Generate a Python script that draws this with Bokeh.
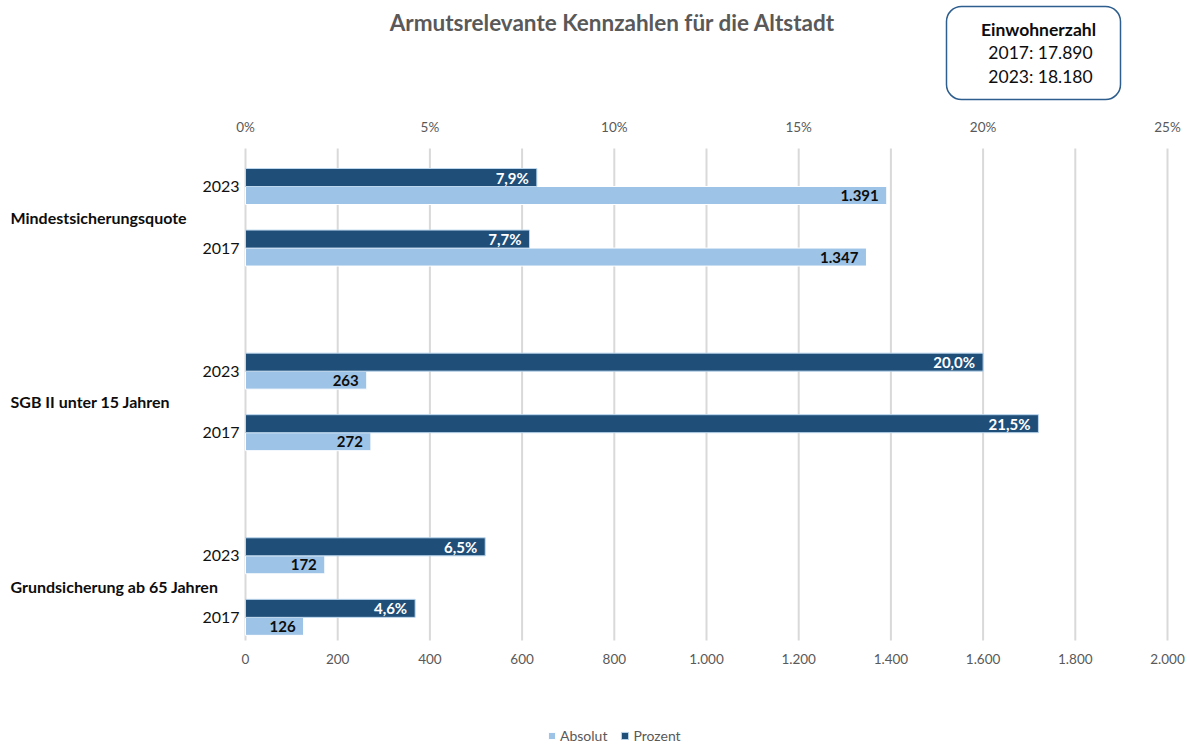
from bokeh.plotting import figure
from bokeh.models import (Range1d, LinearAxis, FixedTicker, BoxAnnotation,
                          Legend, LegendItem, ColumnDataSource)
from bokeh.core.properties import value
from bokeh.embed import file_html
from bokeh.resources import INLINE

# ---------------- data ----------------
groups = ["Mindestsicherungsquote", "SGB II unter 15 Jahren", "Grundsicherung ab 65 Jahren"]
years = ["2023", "2017"]
prozent = [[7.9, 7.7], [20.0, 21.5], [6.5, 4.6]]        # percent values
absolut = [[1391, 1347], [263, 272], [172, 126]]         # absolute values
abs_ticks = [0, 200, 400, 600, 800, 1000, 1200, 1400, 1600, 1800, 2000]
abs_tick_labels = ["0", "200", "400", "600", "800", "1.000", "1.200", "1.400", "1.600", "1.800", "2.000"]
pct_ticks = [0, 5, 10, 15, 20, 25]
pct_tick_labels = ["0%", "5%", "10%", "15%", "20%", "25%"]
title_text = "Armutsrelevante Kennzahlen für die Altstadt"
box_title = "Einwohnerzahl"
box_lines = ["2017: 17.890", "2023: 18.180"]
series_names = ["Absolut", "Prozent"]
ABS_MAX, PCT_MAX = 2000, 25

DARK = "#1F4E79"
LIGHT = "#9DC3E6"
FONT = "Lato"

# ---------------- geometry (canvas pixels) ----------------
W, H = 1190, 745
FL, FR, FT, FB = 245, 1167, 148, 640   # plot area
SLOT = 61.55
Y_TOP = -38 / SLOT
BAR_H = 18 / SLOT


def px_x(px):
    return (px - FL) / (FR - FL) * ABS_MAX


def px_y(py):
    return Y_TOP + (py - FT) / SLOT


p = figure(width=W, height=H, output_backend="svg", toolbar_location=None,
           x_range=Range1d(px_x(0), px_x(W)), y_range=Range1d(px_y(H), px_y(0)),
           min_border=0, x_axis_location=None, y_axis_location=None)
p.title.text = ""
p.outline_line_color = None
p.background_fill_color = "white"
p.border_fill_color = "white"
p.xgrid.visible = False
p.ygrid.visible = False
p.extra_x_ranges = {"pct": Range1d(px_x(0) / ABS_MAX * PCT_MAX, px_x(W) / ABS_MAX * PCT_MAX)}

# gridlines (vertical, at the absolute ticks, spanning the plot area)
p.segment(x0=abs_ticks, x1=abs_ticks, y0=[px_y(FT)] * len(abs_ticks),
          y1=[px_y(FB)] * len(abs_ticks), line_color="#D9D9D9", line_width=2)

# bars
ys, dark_y, light_y, pv, av, plab, alab = [], [], [], [], [], [], []
for gi, g in enumerate(groups):
    for yi, yr in enumerate(years):
        y = gi * 3 + yi
        ys.append(y)
        dark_y.append(y - BAR_H / 2)
        light_y.append(y + BAR_H / 2)
        pv.append(prozent[gi][yi])
        av.append(absolut[gi][yi])
        plab.append(f"{prozent[gi][yi]:.1f}".replace(".", ",") + "%")
        alab.append(f"{absolut[gi][yi]:,}".replace(",", "."))

src = ColumnDataSource(dict(dy=dark_y, ly=light_y, pv=pv, av=av, plab=plab, alab=alab))

r_abs = p.hbar(y="ly", right="av", left=0, height=BAR_H, source=src,
               fill_color=LIGHT, line_color="white", line_width=1)
r_pct = p.hbar(y="dy", right="pv", left=0, height=BAR_H, source=src, x_range_name="pct",
               fill_color=DARK, line_color="#BDD7EE", line_width=1)

p.text(x="pv", y="dy", text="plab", source=src, x_range_name="pct", x_offset=-8,
       text_align="right", text_baseline="middle", text_color="white",
       text_font=value(FONT), text_font_style="bold", text_font_size="15px")
p.text(x="av", y="ly", text="alab", source=src, x_offset=-8,
       text_align="right", text_baseline="middle", text_color="#0D0D0D",
       text_font=value(FONT), text_font_style="bold", text_font_size="15px")


# axes
def style_axis(ax, size, color):
    ax.axis_line_color = None
    ax.major_tick_line_color = None
    ax.minor_tick_line_color = None
    ax.major_tick_out = 0
    ax.major_tick_in = 0
    ax.minor_tick_out = 0
    ax.major_label_text_color = color
    ax.major_label_text_font = FONT
    ax.major_label_text_font_size = size


xb = LinearAxis(ticker=FixedTicker(ticks=abs_ticks), fixed_location=px_y(FB),
                major_label_overrides={t: l for t, l in zip(abs_ticks, abs_tick_labels)})
style_axis(xb, "13.5px", "#595959")
xb.major_label_standoff = 13
p.add_layout(xb, "below")

xt = LinearAxis(x_range_name="pct", ticker=FixedTicker(ticks=pct_ticks), fixed_location=px_y(FT),
                major_label_overrides={t: l for t, l in zip(pct_ticks, pct_tick_labels)})
style_axis(xt, "13.5px", "#595959")
xt.major_label_standoff = 14
p.add_layout(xt, "above")

ya = LinearAxis(ticker=FixedTicker(ticks=ys), fixed_location=0,
                major_label_overrides={y: years[i % 2] for i, y in enumerate(ys)})
style_axis(ya, "16px", "#111111")
ya.major_label_standoff = 6
p.add_layout(ya, "left")

# group labels (outer category level)
p.text(x=[px_x(10)] * len(groups), y=[gi * 3 + 0.5 for gi in range(len(groups))], text=groups,
       text_align="left", text_baseline="middle", text_font=value(FONT),
       text_font_style="bold", text_font_size="16px", text_color="#0D0D0D")

# title
p.text(x=[px_x(612)], y=[px_y(22)], text=[title_text], text_align="center",
       text_baseline="middle", text_font=value(FONT), text_font_style="bold",
       text_font_size="22.5px", text_color="#595959")

# info box
p.add_layout(BoxAnnotation(left=px_x(946), right=px_x(1120), top=px_y(6), bottom=px_y(99),
                           fill_color="white", fill_alpha=0, line_color="#2E5E8E",
                           line_alpha=1, line_width=1.5, border_radius=15, level="underlay"))
p.text(x=[px_x(1038)], y=[px_y(29)], text=[box_title], text_align="center",
       text_baseline="middle", text_font=value(FONT), text_font_style="bold",
       text_font_size="17.5px", text_color="#0D0D0D")
p.text(x=[px_x(1040)] * len(box_lines), y=[px_y(52 + 24 * i) for i in range(len(box_lines))],
       text=box_lines, text_align="center", text_baseline="middle", text_font=value(FONT),
       text_font_size="17.5px", text_color="#0D0D0D")

# legend
legend = Legend(items=[LegendItem(label=series_names[0], renderers=[r_abs]),
                       LegendItem(label=series_names[1], renderers=[r_pct])],
                orientation="horizontal", location=(547, 1),
                glyph_width=9, glyph_height=9, label_standoff=4, spacing=13,
                padding=0, margin=0, border_line_color=None, background_fill_alpha=0,
                label_text_font=FONT, label_text_font_size="14px",
                label_text_color="#595959", label_height=14)
p.add_layout(legend, "center")

open("out.html", "w").write(file_html(p, INLINE))
